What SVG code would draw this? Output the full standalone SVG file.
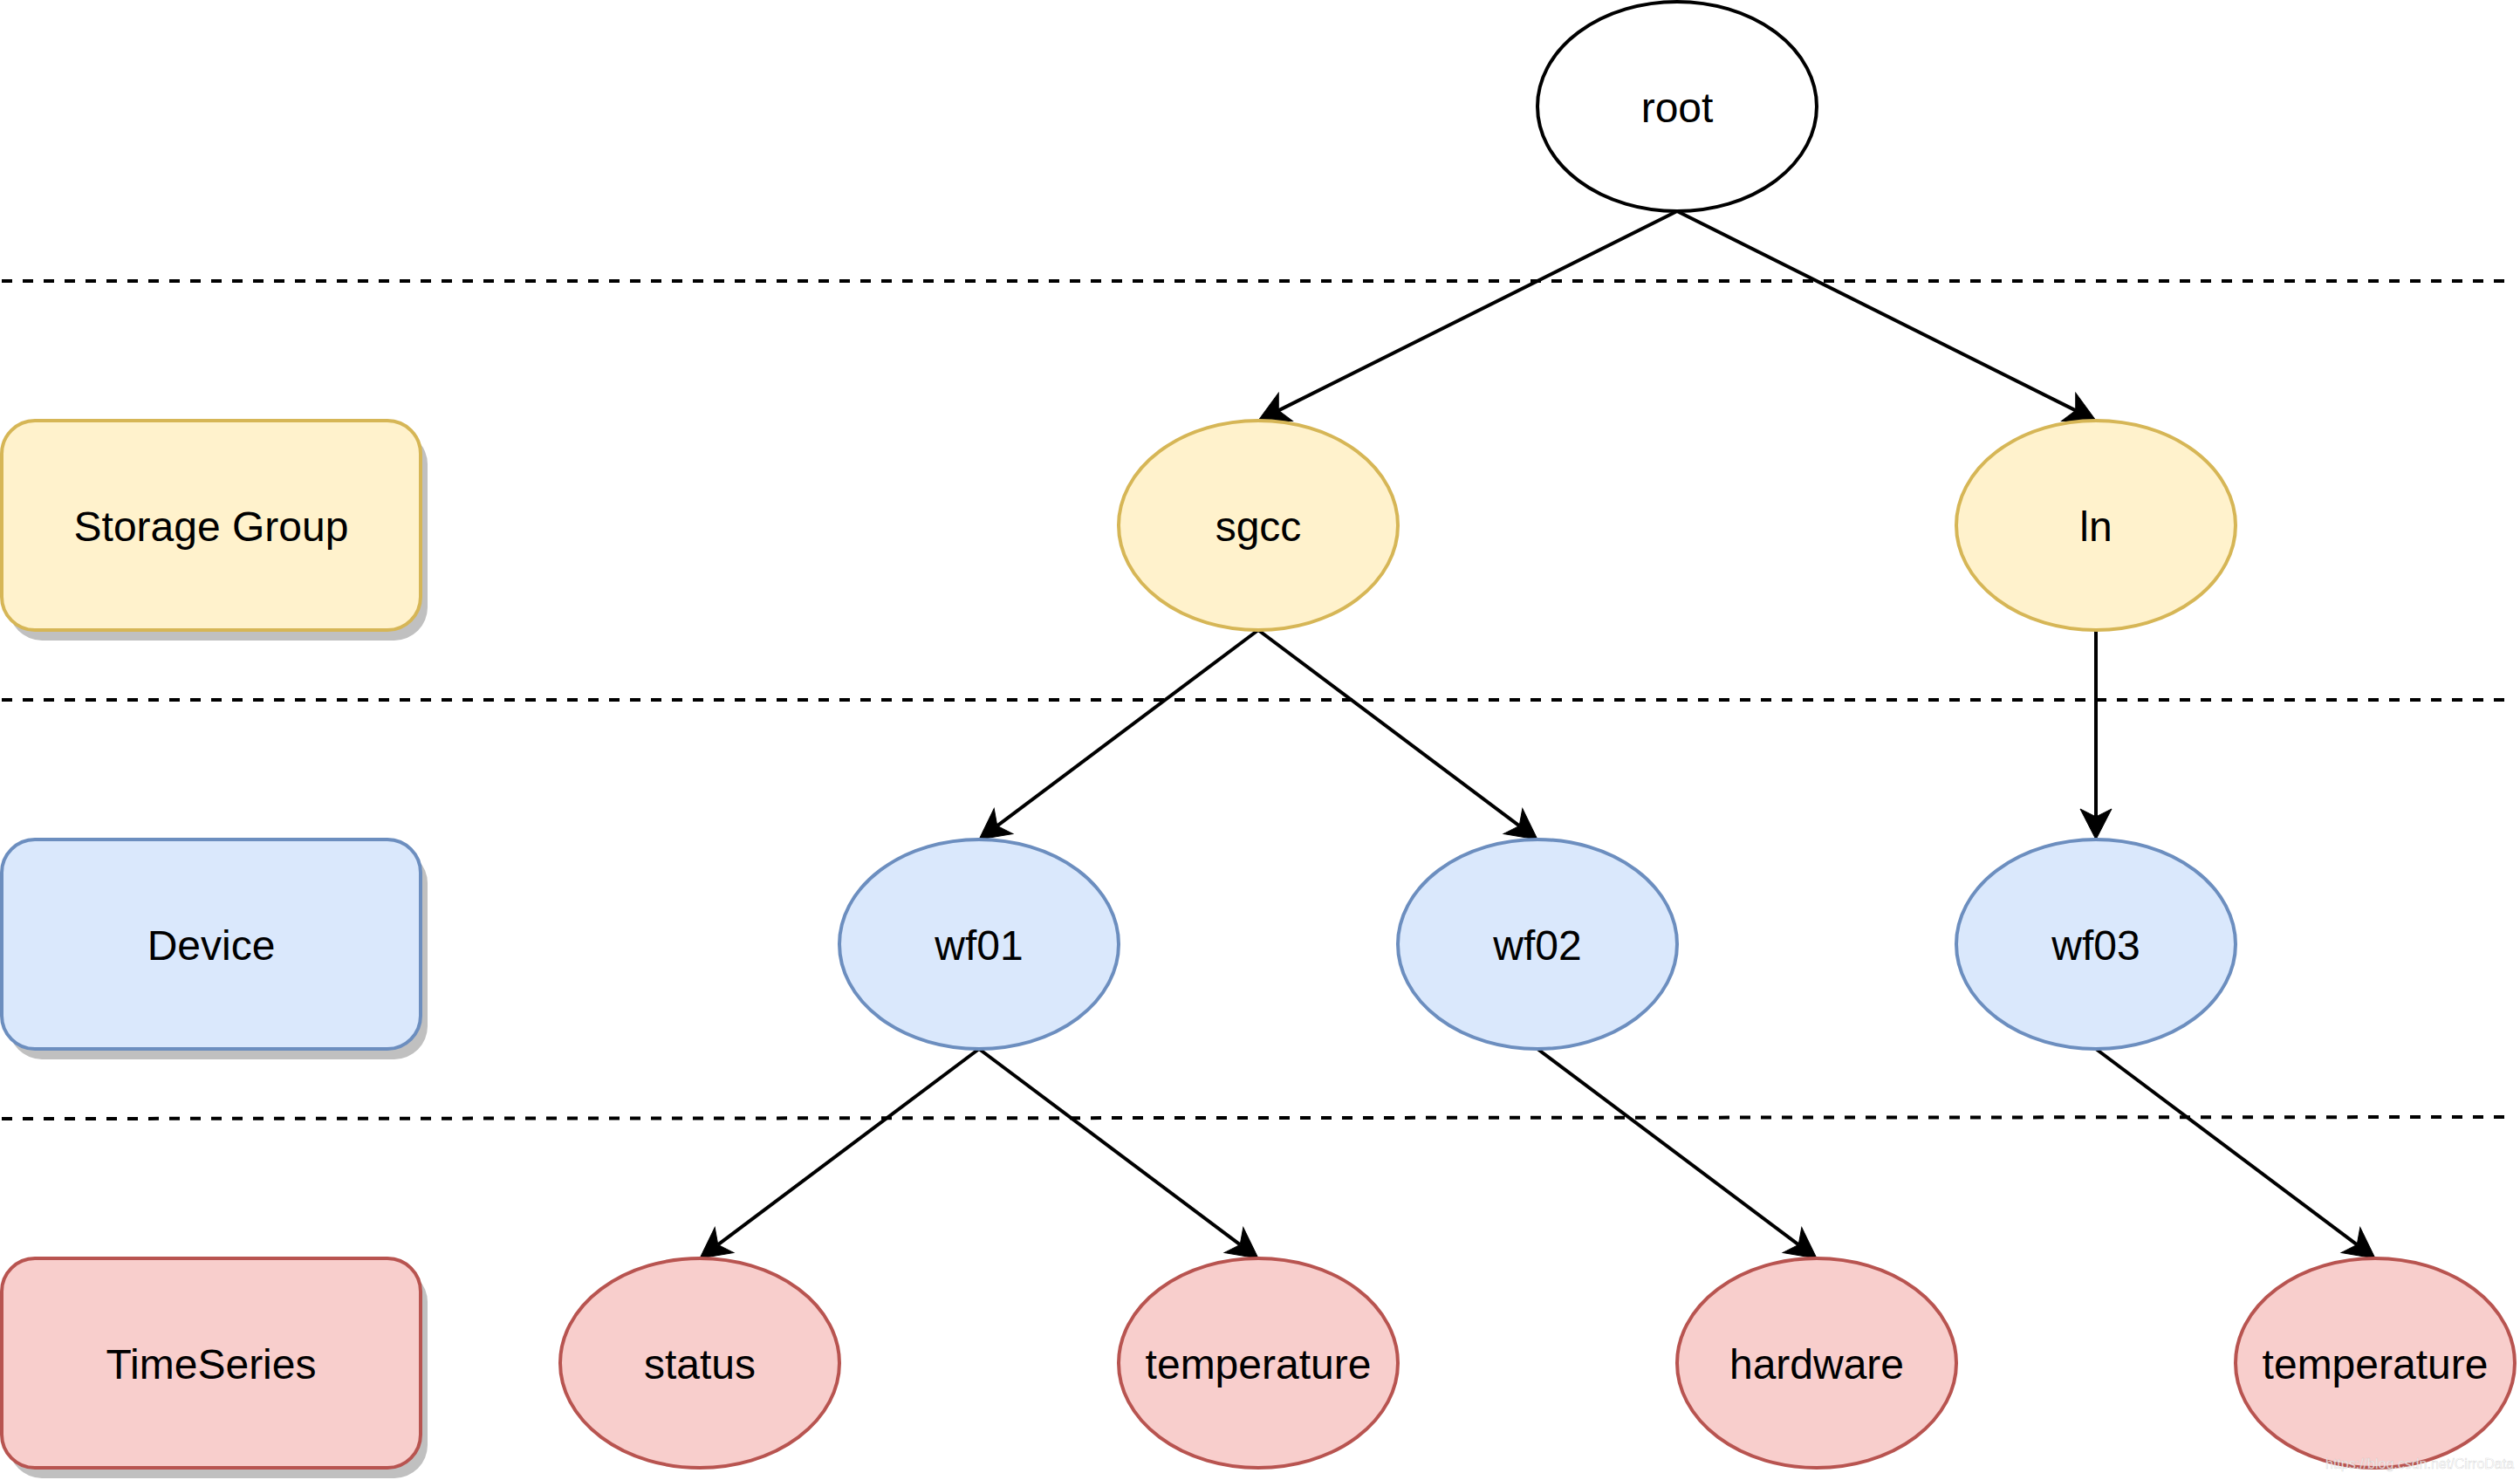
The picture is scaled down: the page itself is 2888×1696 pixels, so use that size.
<svg xmlns="http://www.w3.org/2000/svg" width="2888" height="1696" viewBox="0 0 2888 1696">
<style>
text{font-family:"Liberation Sans",Arial,Helvetica,sans-serif;font-size:48px;fill:#000;text-anchor:middle}
.sep{stroke:#000;stroke-width:4;stroke-dasharray:12 12;fill:none}
.edge{stroke:#000;stroke-width:4;fill:none;marker-end:url(#arrow)}
.shadow{fill:#c0c0c0}
.yel{fill:#fff2cc;stroke:#d6b656;stroke-width:4}
.blu{fill:#dae8fc;stroke:#6c8ebf;stroke-width:4}
.red{fill:#f8cecc;stroke:#b85450;stroke-width:4}
.wht{fill:#fff;stroke:#000;stroke-width:4}
.wm{font-size:16px;fill:#fff;fill-opacity:0.75;stroke:#999;stroke-opacity:0.35;stroke-width:0.6;text-anchor:start}
</style>
<defs>
<marker id="arrow" markerUnits="userSpaceOnUse" markerWidth="60" markerHeight="60" viewBox="-20 -30 60 60" refX="0" refY="0" orient="auto" overflow="visible">
<path d="M26,0 L-9,-18 L0,0 L-9,18 Z" fill="#000" stroke="#000" stroke-width="1"/>
</marker>
</defs>
<rect width="2888" height="1696" fill="#fff"/>
<g id="separators">
<line class="sep" x1="2" y1="322" x2="2872" y2="322"/>
<line class="sep" x1="2" y1="802" x2="2872" y2="802"/>
<line class="sep" x1="2" y1="1282" x2="2872" y2="1280"/>
</g>
<g id="legend-storage-group">
<rect class="shadow" x="10" y="494" width="480" height="240" rx="38"/>
<rect class="yel" x="2" y="482" width="480" height="240" rx="38"/>
<text x="242" y="620">Storage Group</text>
</g>
<g id="legend-device">
<rect class="shadow" x="10" y="974" width="480" height="240" rx="38"/>
<rect class="blu" x="2" y="962" width="480" height="240" rx="38"/>
<text x="242" y="1100">Device</text>
</g>
<g id="legend-timeseries">
<rect class="shadow" x="10" y="1454" width="480" height="240" rx="38"/>
<rect class="red" x="2" y="1442" width="480" height="240" rx="38"/>
<text x="242" y="1580">TimeSeries</text>
</g>
<g id="connectors">
<line class="edge" x1="1922" y1="242" x2="1465.25" y2="470.37"/>
<line class="edge" x1="1922" y1="242" x2="2378.75" y2="470.37"/>
<line class="edge" x1="1442" y1="722" x2="1142.8" y2="946.4"/>
<line class="edge" x1="1442" y1="722" x2="1741.2" y2="946.4"/>
<line class="edge" x1="2402" y1="722" x2="2402" y2="936"/>
<line class="edge" x1="1122" y1="1202" x2="822.8" y2="1426.4"/>
<line class="edge" x1="1122" y1="1202" x2="1421.2" y2="1426.4"/>
<line class="edge" x1="1762" y1="1202" x2="2061.2" y2="1426.4"/>
<line class="edge" x1="2402" y1="1202" x2="2701.2" y2="1426.4"/>
</g>
<g id="node-root">
<ellipse class="wht" cx="1922" cy="122" rx="160" ry="120"/>
<text x="1922" y="140">root</text>
</g>
<g id="node-sgcc">
<ellipse class="yel" cx="1442" cy="602" rx="160" ry="120"/>
<text x="1442" y="620">sgcc</text>
</g>
<g id="node-ln">
<ellipse class="yel" cx="2402" cy="602" rx="160" ry="120"/>
<text x="2402" y="620">ln</text>
</g>
<g id="node-wf01">
<ellipse class="blu" cx="1122" cy="1082" rx="160" ry="120"/>
<text x="1122" y="1100">wf01</text>
</g>
<g id="node-wf02">
<ellipse class="blu" cx="1762" cy="1082" rx="160" ry="120"/>
<text x="1762" y="1100">wf02</text>
</g>
<g id="node-wf03">
<ellipse class="blu" cx="2402" cy="1082" rx="160" ry="120"/>
<text x="2402" y="1100">wf03</text>
</g>
<g id="node-status">
<ellipse class="red" cx="802" cy="1562" rx="160" ry="120"/>
<text x="802" y="1580">status</text>
</g>
<g id="node-temperature-1">
<ellipse class="red" cx="1442" cy="1562" rx="160" ry="120"/>
<text x="1442" y="1580">temperature</text>
</g>
<g id="node-hardware">
<ellipse class="red" cx="2082" cy="1562" rx="160" ry="120"/>
<text x="2082" y="1580">hardware</text>
</g>
<g id="node-temperature-2">
<ellipse class="red" cx="2722" cy="1562" rx="160" ry="120"/>
<text x="2722" y="1580">temperature</text>
</g>
<text class="wm" x="2665" y="1683">https://blog.csdn.net/CirroData</text>
</svg>
